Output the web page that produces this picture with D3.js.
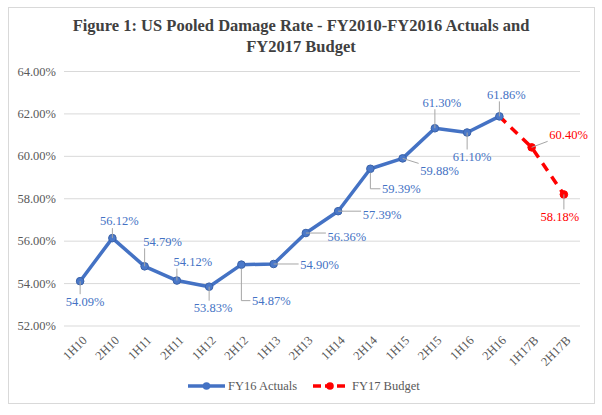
<!DOCTYPE html>
<html><head><meta charset="utf-8">
<script src="https://cdn.jsdelivr.net/npm/d3@7"></script>
<style>
html,body{margin:0;padding:0;background:#fff;}
svg{display:block;}
</style></head>
<body>
<svg id="c" width="602" height="415"></svg>
<script>
const categories = ["1H10","2H10","1H11","2H11","1H12","2H12","1H13","2H13","1H14","2H14","1H15","2H15","1H16","2H16","1H17B","2H17B"];
const actualCats = ["1H10","2H10","1H11","2H11","1H12","2H12","1H13","2H13","1H14","2H14","1H15","2H15","1H16","2H16"];
const actualValues = [54.09,56.12,54.79,54.12,53.83,54.87,54.90,56.36,57.39,59.39,59.88,61.30,61.10,61.86];
const budgetCats = ["2H16","1H17B","2H17B"];
const budgetValues = [61.86,60.40,58.18];
const yTicks = [52,54,56,58,60,62,64];
const seriesNames = ["FY16 Actuals","FY17 Budget"];
const titleLines = ["Figure 1: US Pooled Damage Rate - FY2010-FY2016 Actuals and","FY2017 Budget"];

// label placement: offset of label centre from its point
const actualLabelPos = [
  [5,20],[7,-17],[18,-25],[16,-19],[4,21],[30,36],[46,1],[41,4],[44,3],[31,20],[37,12],[7,-26],[5,24],[7,-22]
];
const budgetLabelPos = [null,[37,-13],[-4,22]];

const svg=d3.select("#c");
const blue="#4472C4", red="#FF0000", grey="#595959";
const serif="'Liberation Serif','Times New Roman',serif";

svg.append("rect").attr("x",8.5).attr("y",7.5).attr("width",586).attr("height",396)
  .attr("fill","#fff").attr("stroke","#d9d9d9");

const x=d3.scalePoint().domain(categories).range([64,580]).padding(0.5);
const y=d3.scaleLinear().domain([52,64]).range([325.5,71]);

const t=svg.append("text").attr("text-anchor","middle").attr("font-family",serif)
  .attr("font-weight","bold").attr("font-size",16.5).attr("fill","#404040");
titleLines.forEach((l,i)=>t.append("tspan").attr("x",301).attr("y",31+i*21).text(l));

// grid + y axis
const yAxis=d3.axisLeft(y).tickValues(yTicks).tickSize(-516).tickFormat(d=>d3.format(".2f")(d)+"%");
const ga=svg.append("g").attr("transform","translate(64,0)").call(yAxis);
ga.attr("font-family",null);
ga.select(".domain").remove();
ga.selectAll(".tick line").attr("stroke","#d9d9d9").attr("stroke-width",1);
ga.selectAll(".tick text").attr("x",-8).attr("font-family",serif).attr("font-size",12.5).attr("fill",grey);

// x axis labels
const xAxis=d3.axisBottom(x).tickSize(0);
const gx=svg.append("g").attr("transform","translate(0,334)").call(xAxis);
gx.attr("font-family",null);
gx.select(".domain").remove();
gx.selectAll(".tick text").attr("font-family",serif).attr("font-size",12.5).attr("fill",grey)
  .attr("text-anchor","end").attr("dy","0.35em").attr("y",0)
  .attr("transform","translate(4,4) rotate(-45)");

const line=d3.line().x(d=>x(d[0])).y(d=>y(d[1]));
const act=actualCats.map((c,i)=>[c,actualValues[i]]);
const bud=budgetCats.map((c,i)=>[c,budgetValues[i]]);

const leaderG=svg.append("g");
const labelG=svg.append("g");
function labels(data,pos,color){
  data.forEach((d,i)=>{
    const p=pos[i]; if(!p) return;
    const px=x(d[0]), py=y(d[1]);
    const lx=px+p[0], ly=py+p[1];
    const w=42,h=14;
    const ex=Math.max(lx-w/2,Math.min(px,lx+w/2));
    const ey=Math.max(ly-h/2,Math.min(py,ly+h/2));
    const dist=Math.hypot(ex-px,ey-py);
    if(dist>8){
      if(Math.abs(p[0])>22 && Math.abs(p[1])>15){
        leaderG.append("path").attr("d",`M${px},${py+4}L${px},${ly}L${lx-w/2},${ly}`)
          .attr("fill","none").attr("stroke","#a6a6a6");
      } else {
        leaderG.append("line").attr("x1",px).attr("y1",py).attr("x2",ex).attr("y2",ey)
          .attr("stroke","#a6a6a6");
      }
    }
    labelG.append("text").attr("x",lx).attr("y",ly).attr("dy","0.35em").attr("text-anchor","middle")
      .attr("font-family",serif).attr("font-size",12.5).attr("fill",color)
      .text(d3.format(".2f")(d[1])+"%");
  });
}

svg.append("path").datum(bud).attr("d",line).attr("fill","none").attr("stroke",red)
  .attr("stroke-width",3.5).attr("stroke-dasharray","9,7");
svg.append("path").datum(act).attr("d",line).attr("fill","none").attr("stroke",blue)
  .attr("stroke-width",3.5).attr("stroke-linejoin","round");
svg.append("g").selectAll("circle").data(bud.slice(1)).join("circle")
  .attr("cx",d=>x(d[0])).attr("cy",d=>y(d[1])).attr("r",3.8).attr("fill",red).attr("stroke",red);
svg.append("g").selectAll("circle").data(act).join("circle")
  .attr("cx",d=>x(d[0])).attr("cy",d=>y(d[1])).attr("r",3.8).attr("fill","#4a78c9").attr("stroke","#3a62a8");

labels(act,actualLabelPos,blue);
labels(bud,budgetLabelPos,red);
leaderG.raise(); labelG.raise();

// legend
const lg=svg.append("g");
const lgY=386;
lg.append("line").attr("x1",188).attr("x2",225).attr("y1",lgY).attr("y2",lgY).attr("stroke",blue).attr("stroke-width",3.5);
lg.append("circle").attr("cx",206.5).attr("cy",lgY).attr("r",3.8).attr("fill",blue);
lg.append("text").attr("x",228).attr("y",lgY).attr("dy","0.35em").attr("font-family",serif).attr("font-size",12.5).attr("fill",grey).text(seriesNames[0]);
lg.append("line").attr("x1",313).attr("x2",346).attr("y1",lgY).attr("y2",lgY).attr("stroke",red).attr("stroke-width",3.5).attr("stroke-dasharray","8,4");
lg.append("circle").attr("cx",330).attr("cy",lgY).attr("r",3.8).attr("fill",red);
lg.append("text").attr("x",352).attr("y",lgY).attr("dy","0.35em").attr("font-family",serif).attr("font-size",12.5).attr("fill",grey).text(seriesNames[1]);
</script>
</body></html>
